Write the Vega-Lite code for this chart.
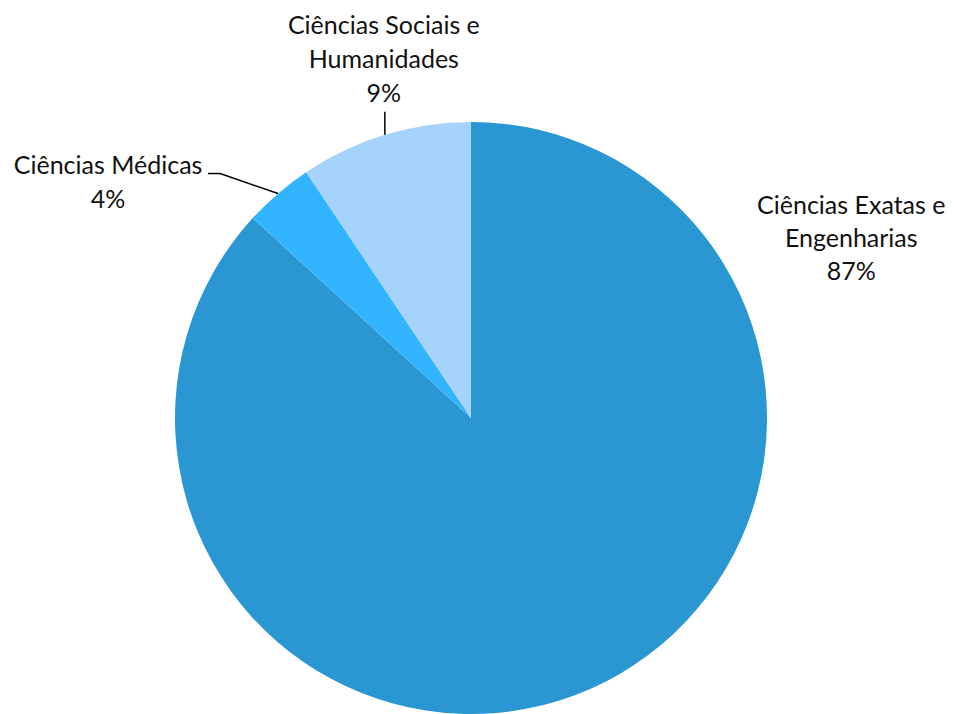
{
  "$schema": "https://vega.github.io/schema/vega-lite/v6.json",
  "width": 592,
  "height": 592,
  "autosize": {"type": "none"},
  "padding": {"left": 175, "top": 122, "right": 187, "bottom": 0},
  "background": "white",
  "config": {"view": {"stroke": null}, "font": "Lato"},
  "data": {
    "values": [
      {"categoria": "Ciências Exatas e Engenharias", "pct": 86.8},
      {"categoria": "Ciências Médicas", "pct": 3.8},
      {"categoria": "Ciências Sociais e Humanidades", "pct": 9.4}
    ]
  },
  "transform": [
    {"joinaggregate": [{"op": "sum", "field": "pct", "as": "total"}]},
    {"window": [{"op": "sum", "field": "pct", "as": "acum"}], "sort": [{"field": "categoria", "order": "ascending"}], "frame": [null, 0]},
    {"calculate": "2*PI*(datum.acum - datum.pct/2)/datum.total", "as": "meio"},
    {"calculate": "296*sin(datum.meio)", "as": "ax"},
    {"calculate": "296*cos(datum.meio)", "as": "ay"},
    {"calculate": "replace(datum.categoria, ' e ', ' e\\n') + '\\n' + format(datum.pct, '.0f') + '%'", "as": "rotulo"}
  ],
  "layer": [
    {
      "mark": {"type": "arc", "outerRadius": 296},
      "encoding": {
        "theta": {"field": "pct", "type": "quantitative", "stack": true},
        "color": {
          "field": "categoria",
          "type": "nominal",
          "scale": {
            "domain": ["Ciências Exatas e Engenharias", "Ciências Médicas", "Ciências Sociais e Humanidades"],
            "range": ["#2a97d3", "#33b4ff", "#a6d3fc"]
          },
          "legend": null
        }
      }
    },
    {
      "transform": [
        {"filter": "datum.categoria === 'Ciências Sociais e Humanidades'"},
        {"calculate": "datum.ay + 23", "as": "ey"}
      ],
      "layer": [
        {
          "mark": {"type": "rule", "color": "#000", "strokeWidth": 1.5},
          "encoding": {
            "x": {"field": "ax", "type": "quantitative", "scale": {"domain": [-296, 296], "nice": false, "zero": false}, "axis": null},
            "y": {"field": "ay", "type": "quantitative", "scale": {"domain": [-296, 296], "nice": false, "zero": false}, "axis": null},
            "y2": {"field": "ey"}
          }
        },
        {
          "mark": {"type": "text", "align": "center", "baseline": "alphabetic", "fontSize": 25, "lineHeight": 34, "lineBreak": "\n", "color": "#111", "dx": -1, "dy": -78},
          "encoding": {
            "x": {"field": "ax", "type": "quantitative"},
            "y": {"field": "ey", "type": "quantitative"},
            "text": {"field": "rotulo", "type": "nominal"}
          }
        }
      ]
    },
    {
      "transform": [
        {"filter": "datum.categoria === 'Ciências Médicas'"},
        {"calculate": "datum.ax - 58", "as": "bx"},
        {"calculate": "datum.ay + 20", "as": "by"},
        {"calculate": "datum.bx - 12", "as": "cx"}
      ],
      "layer": [
        {
          "mark": {"type": "rule", "color": "#000", "strokeWidth": 1.5},
          "encoding": {
            "x": {"field": "ax", "type": "quantitative"},
            "y": {"field": "ay", "type": "quantitative"},
            "x2": {"field": "bx"},
            "y2": {"field": "by"}
          }
        },
        {
          "mark": {"type": "rule", "color": "#000", "strokeWidth": 1.5},
          "encoding": {
            "x": {"field": "bx", "type": "quantitative"},
            "y": {"field": "by", "type": "quantitative"},
            "x2": {"field": "cx"},
            "y2": {"field": "by"}
          }
        },
        {
          "mark": {"type": "text", "align": "center", "baseline": "alphabetic", "fontSize": 25, "lineHeight": 34, "lineBreak": "\n", "color": "#111", "dx": -100, "dy": 0},
          "encoding": {
            "x": {"field": "cx", "type": "quantitative"},
            "y": {"field": "by", "type": "quantitative"},
            "text": {"field": "rotulo", "type": "nominal"}
          }
        }
      ]
    },
    {
      "transform": [
        {"filter": "datum.categoria === 'Ciências Exatas e Engenharias'"}
      ],
      "mark": {"type": "text", "align": "center", "baseline": "alphabetic", "fontSize": 25, "lineHeight": 33, "lineBreak": "\n", "color": "#111", "dx": 261, "dy": -475},
      "encoding": {
        "x": {"field": "ax", "type": "quantitative"},
        "y": {"field": "ay", "type": "quantitative"},
        "text": {"field": "rotulo", "type": "nominal"}
      }
    }
  ]
}
